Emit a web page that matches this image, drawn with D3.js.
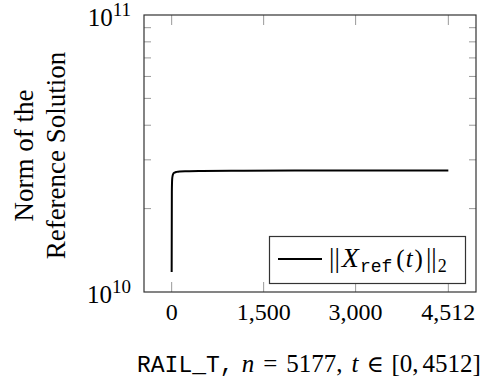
<!DOCTYPE html>
<html>
<head>
<meta charset="utf-8">
<script src="https://cdn.jsdelivr.net/npm/d3@7"></script>
<style>
    body { margin: 0; background: #fff; }
    svg { display: block; }
</style>
</head>
<body>
<script>

// Data
var times = [0, 3, 8, 16, 30, 50, 80, 130, 250, 500, 1000, 2000, 3000, 4512];
var norms = [1.18e10, 2.3e10, 2.55e10, 2.63e10, 2.68e10, 2.70e10, 2.715e10, 2.725e10, 2.73e10, 2.735e10, 2.74e10, 2.743e10, 2.745e10, 2.745e10];
var xTicks = [0, 1500, 3000, 4512];
var yMajor = [10, 11];  // exponents of the labelled decades
var yMinor = [2, 3, 4, 5, 6, 7, 8, 9];

var width = 486, height = 378;
// plot box (note: "top" is taken by window.top, so use other names)
var plotLeft = 144, plotRight = 476, plotTop = 15, plotBottom = 292;
var serif = "'Liberation Serif', 'Times New Roman', serif";
var mono = "'Liberation Mono', 'DejaVu Sans Mono', monospace";

var svg = d3.select("body")
    .append("svg")
    .attr("width", width)
    .attr("height", height);

// Scales (pgfplots style 10% enlargement on x)
var xScale = d3.scaleLinear()
    .domain([-0.1 * 4512, 1.1 * 4512])
    .range([plotLeft, plotRight]);
var yScale = d3.scaleLog()
    .domain([1e10, 1e11])
    .range([plotBottom, plotTop]);

// Ticks, drawn inward on all four sides
var tickColor = "#999";
xTicks.forEach(function(t) {
    var x = xScale(t);
    svg.append("line").attr("x1", x).attr("x2", x).attr("y1", plotBottom).attr("y2", plotBottom - 10)
        .attr("stroke", tickColor).attr("stroke-width", 1);
    svg.append("line").attr("x1", x).attr("x2", x).attr("y1", plotTop).attr("y2", plotTop + 10)
        .attr("stroke", tickColor).attr("stroke-width", 1);
});
yMinor.forEach(function(m) {
    var y = yScale(m * 1e10);
    svg.append("line").attr("x1", plotLeft).attr("x2", plotLeft + 7).attr("y1", y).attr("y2", y)
        .attr("stroke", tickColor).attr("stroke-width", 1);
    svg.append("line").attr("x1", plotRight).attr("x2", plotRight - 7).attr("y1", y).attr("y2", y)
        .attr("stroke", tickColor).attr("stroke-width", 1);
});

// Axis frame
svg.append("rect")
    .attr("x", plotLeft).attr("y", plotTop)
    .attr("width", plotRight - plotLeft).attr("height", plotBottom - plotTop)
    .attr("fill", "none")
    .attr("stroke", "#333")
    .attr("stroke-width", 1.2);

// x tick labels
svg.selectAll("text.xtick")
    .data(xTicks)
    .enter()
    .append("text")
        .attr("class", "xtick")
        .attr("x", function(d) { return xScale(d); })
        .attr("y", 320)
        .attr("text-anchor", "middle")
        .style("font-family", serif)
        .style("font-size", "24px")
        .text(function(d) { return d3.format(",")(d); });

// y tick labels 10^10, 10^11
yMajor.forEach(function(e) {
    var lbl = svg.append("text")
        .attr("x", 131)
        .attr("y", yScale(Math.pow(10, e)) + 11)
        .attr("text-anchor", "end")
        .style("font-family", serif)
        .style("font-size", "25px");
    lbl.append("tspan").text("10");
    lbl.append("tspan").attr("dy", -10).style("font-size", "19px").text(e);
});

// y axis label (two lines)
var ylab = svg.append("text")
    .attr("transform", "translate(33," + ((plotTop + plotBottom) / 2 + 2) + ") rotate(-90)")
    .attr("text-anchor", "middle")
    .style("font-family", serif)
    .style("font-size", "27px");
ylab.append("tspan").attr("x", 0).attr("y", 0).text("Norm of the");
ylab.append("tspan").attr("x", 0).attr("y", 32).text("Reference Solution");

// x axis label
var xlab = svg.append("text")
    .attr("x", 137)
    .attr("y", 372)
    .style("font-family", serif)
    .style("font-size", "25px");
xlab.append("tspan").style("font-family", mono).style("font-size", "23px").text("RAIL_T,");
xlab.append("tspan").attr("dx", 8).style("font-style", "italic").text("n");
xlab.append("tspan").attr("dx", 9).text("=");
xlab.append("tspan").attr("dx", 9).text("5177,");
xlab.append("tspan").attr("dx", 9).style("font-style", "italic").text("t");
xlab.append("tspan").attr("dx", 8).style("font-family", "'DejaVu Serif', serif").style("font-size", "23px").text("\u2208");
xlab.append("tspan").attr("dx", 8).text("[0,");
xlab.append("tspan").attr("dx", 4).text("4512]");

// The curve
var line = d3.line()
    .x(function(d, i) { return xScale(times[i]); })
    .y(function(d) { return yScale(d); })
    .curve(d3.curveMonotoneX);

svg.append("path")
    .datum(norms)
    .attr("d", line)
    .attr("fill", "none")
    .attr("stroke", "#000")
    .attr("stroke-width", 2);

// Legend
svg.append("rect")
    .attr("x", 269.5).attr("y", 236.5)
    .attr("width", 196).attr("height", 47)
    .attr("fill", "#fff")
    .attr("stroke", "#333")
    .attr("stroke-width", 1.2);
svg.append("line")
    .attr("x1", 278).attr("x2", 322)
    .attr("y1", 259).attr("y2", 259)
    .attr("stroke", "#000")
    .attr("stroke-width", 2);
var leg = svg.append("text")
    .attr("x", 329)
    .attr("y", 267)
    .style("font-family", serif)
    .style("font-size", "25px");
leg.append("tspan").style("font-size", "27px").text("||");
leg.append("tspan").attr("dx", 2).style("font-style", "italic").style("font-size", "28px").text("X");
leg.append("tspan").attr("dy", 5).attr("dx", 1).style("font-family", mono).style("font-size", "18px").text("ref");
leg.append("tspan").attr("dy", -5).attr("dx", 4).text("(");
leg.append("tspan").attr("dx", 1).style("font-style", "italic").text("t");
leg.append("tspan").attr("dx", 2).text(")");
leg.append("tspan").attr("dx", 3).style("font-size", "27px").text("||");
leg.append("tspan").attr("dy", 5).attr("dx", 1).style("font-size", "18px").text("2");

</script>
</body>
</html>
